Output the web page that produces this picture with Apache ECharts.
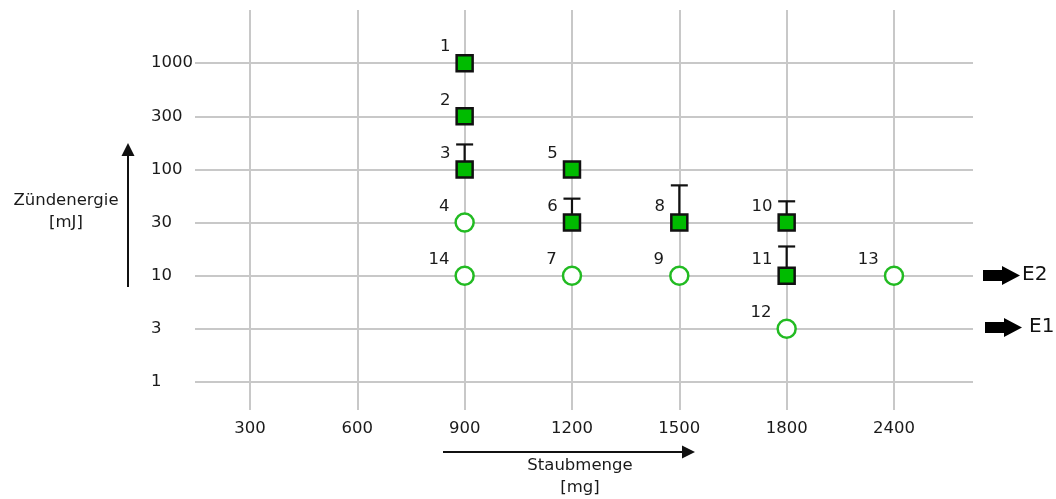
<!DOCTYPE html>
<html>
<head>
<meta charset="utf-8">
<script src="https://cdn.jsdelivr.net/npm/echarts@6/dist/echarts.min.js"></script>
<style>html,body{margin:0;padding:0;background:#fff}#c{width:1056px;height:499px}</style>
</head>
<body>
<div id="c"></div>
<script>
// Tick labels (evenly spaced categories)
const xCategories = ['300', '600', '900', '1200', '1500', '1800', '2400'];
const yCategories = ['1', '3', '10', '30', '100', '300', '1000'];

// Filled squares: [Staubmenge, Zündenergie, id]
const squarePoints = [
  ['900', '1000', '1'],
  ['900', '300', '2'],
  ['900', '100', '3'],
  ['1200', '100', '5'],
  ['1200', '30', '6'],
  ['1500', '30', '8'],
  ['1800', '30', '10'],
  ['1800', '10', '11']
];
// Open circles: [Staubmenge, Zündenergie, id]
const circlePoints = [
  ['900', '30', '4'],
  ['1200', '10', '7'],
  ['1500', '10', '9'],
  ['1800', '3', '12'],
  ['2400', '10', '13'],
  ['900', '10', '14']
];
// Upward error bars: [Staubmenge, Zündenergie, upper extent in tick steps]
const errorBars = [
  ['900', '100', 0.47],
  ['1200', '30', 0.45],
  ['1500', '30', 0.70],
  ['1800', '30', 0.40],
  ['1800', '10', 0.55]
];

const xi = c => xCategories.indexOf(c);
const yi = c => yCategories.indexOf(c);
const X_MIN = -0.512, X_MAX = 6.736, Y_MIN = -0.527, Y_MAX = 7.0;
const FONT = 'DejaVu Sans';
const TXT = '#1a1a1a';
const FS = 16.5;

const gridLines = [];
for (let i = 0; i < xCategories.length; i++) gridLines.push([{coord: [i, Y_MIN]}, {coord: [i, Y_MAX]}]);
for (let j = 0; j < yCategories.length; j++) gridLines.push([{coord: [X_MIN, j]}, {coord: [X_MAX, j]}]);

const pointLabel = {
  show: true, position: 'left', distance: 5, offset: [0, -16],
  formatter: p => p.value[2], fontFamily: FONT, fontSize: FS, color: TXT
};

const chart = echarts.init(document.getElementById('c'), null, {renderer: 'canvas'});
chart.setOption({
  animation: false,
  backgroundColor: '#fff',
  grid: {left: 195, right: 83, top: 10, bottom: 89},
  xAxis: {
    type: 'value', min: X_MIN, max: X_MAX,
    axisLine: {show: false}, axisTick: {show: false}, splitLine: {show: false},
    axisLabel: {
      customValues: xCategories.map((_, i) => i),
      formatter: v => xCategories[Math.round(v)] ?? '',
      margin: 10, fontFamily: FONT, fontSize: FS, color: TXT
    }
  },
  yAxis: {
    type: 'value', min: Y_MIN, max: Y_MAX,
    axisLine: {show: false}, axisTick: {show: false}, splitLine: {show: false},
    axisLabel: {
      customValues: yCategories.map((_, i) => i),
      formatter: v => yCategories[Math.round(v)] ?? '',
      align: 'left', margin: 44, fontFamily: FONT, fontSize: FS, color: TXT
    }
  },
  graphic: [
    {type: 'text', x: 66, y: 212, style: {text: 'Zündenergie\n[mJ]', textAlign: 'center', textVerticalAlign: 'middle', lineHeight: 22, font: FS + 'px "DejaVu Sans"', fill: TXT}},
    {type: 'text', x: 580, y: 477, style: {text: 'Staubmenge\n[mg]', textAlign: 'center', textVerticalAlign: 'middle', lineHeight: 22, font: FS + 'px "DejaVu Sans"', fill: TXT}},
    {type: 'line', shape: {x1: 128, y1: 287, x2: 128, y2: 152}, style: {stroke: '#111', lineWidth: 2}},
    {type: 'polygon', shape: {points: [[128, 143], [121.5, 156], [134.5, 156]]}, style: {fill: '#111'}},
    {type: 'line', shape: {x1: 443, y1: 452, x2: 686, y2: 452}, style: {stroke: '#111', lineWidth: 2}},
    {type: 'polygon', shape: {points: [[695, 452], [682, 445.5], [682, 458.5]]}, style: {fill: '#111'}},
    {type: 'polygon', shape: {points: [[983, 270], [1002, 270], [1002, 266], [1020, 275.5], [1002, 285], [1002, 281], [983, 281]]}, style: {fill: '#000'}},
    {type: 'text', x: 1022, y: 275, style: {text: 'E2', textVerticalAlign: 'middle', font: '20px "DejaVu Sans"', fill: '#111'}},
    {type: 'polygon', shape: {points: [[985, 322], [1004, 322], [1004, 318], [1022, 327.5], [1004, 337], [1004, 333], [985, 333]]}, style: {fill: '#000'}},
    {type: 'text', x: 1029, y: 327, style: {text: 'E1', textVerticalAlign: 'middle', font: '20px "DejaVu Sans"', fill: '#111'}}
  ],
  series: [
    {
      type: 'scatter', data: [], silent: true, z: 1,
      markLine: {silent: true, z: 1, symbol: 'none', label: {show: false}, animation: false,
        lineStyle: {color: '#c8c8c8', width: 2, type: 'solid'}, data: gridLines}
    },
    {
      type: 'custom', z: 3, silent: true,
      data: errorBars.map(d => [xi(d[0]), yi(d[1]), yi(d[1]) + d[2]]),
      renderItem: (params, api) => {
        const p0 = api.coord([api.value(0), api.value(1)]);
        const p1 = api.coord([api.value(0), api.value(2)]);
        return {type: 'group', children: [
          {type: 'line', shape: {x1: p0[0], y1: p0[1], x2: p1[0], y2: p1[1]}, style: {stroke: '#111', lineWidth: 2.2}},
          {type: 'line', shape: {x1: p1[0] - 8.5, y1: p1[1], x2: p1[0] + 8.5, y2: p1[1]}, style: {stroke: '#111', lineWidth: 2.2}}
        ]};
      }
    },
    {
      type: 'scatter', z: 4, symbol: 'rect', symbolSize: 16,
      itemStyle: {color: '#00bb00', borderColor: '#111', borderWidth: 2.5, opacity: 1},
      label: pointLabel,
      data: squarePoints.map(d => [xi(d[0]), yi(d[1]), d[2]])
    },
    {
      type: 'scatter', z: 4, symbol: 'circle', symbolSize: 18,
      itemStyle: {color: '#fff', borderColor: '#22bb22', borderWidth: 2.5, opacity: 1},
      label: pointLabel,
      data: circlePoints.map(d => [xi(d[0]), yi(d[1]), d[2]])
    }
  ]
});
</script>
</body>
</html>
